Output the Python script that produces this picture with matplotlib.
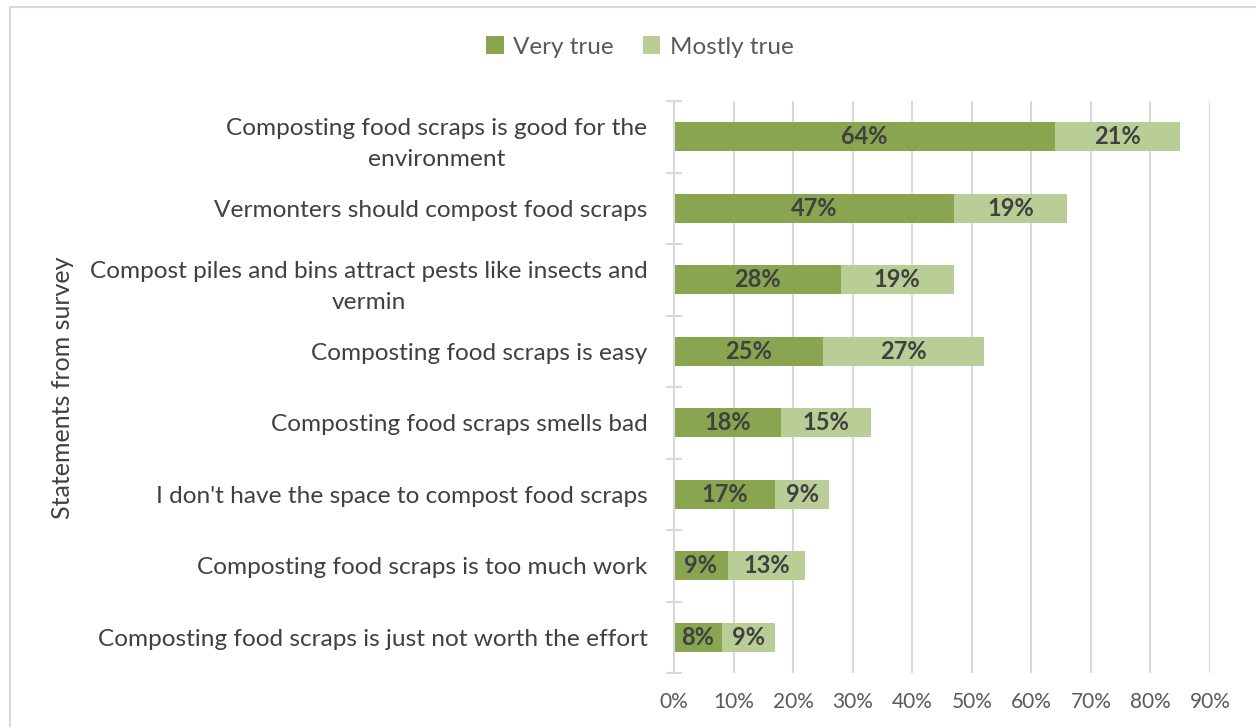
import matplotlib.pyplot as plt
import numpy as np
from matplotlib.patches import Rectangle

plt.rcParams['font.family'] = ['Lato', 'DejaVu Sans']

statements = [
    'Composting food scraps is good for the\nenvironment',
    'Vermonters should compost food scraps',
    'Compost piles and bins attract pests like insects and\nvermin',
    'Composting food scraps is easy',
    'Composting food scraps smells bad',
    "I don't have the space to compost food scraps",
    'Composting food scraps is too much work',
    'Composting food scraps is just not worth the effort',
]
very_true = [64, 47, 28, 25, 18, 17, 9, 8]
mostly_true = [21, 19, 19, 27, 15, 9, 13, 9]

dark = '#8AA550'
light = '#B9CE97'
grid_c = '#D9D9D9'
text_c = '#404040'
tick_c = '#595959'

fig = plt.figure(figsize=(12.56, 7.27), dpi=100)
ax = fig.add_axes([674 / 1256, 1 - 673 / 727, 536 / 1256, 572 / 727])

y = np.arange(len(statements))
vt = np.array(very_true) / 100
mt = np.array(mostly_true) / 100
h = 0.41
ax.barh(y, vt, height=h, color=dark, label='Very true', zorder=3)
ax.barh(y, mt, left=vt, height=h, color=light, label='Mostly true', zorder=3)

for i in range(len(y)):
    ax.text(vt[i] / 2, y[i], f'{very_true[i]}%', ha='center', va='center',
            fontsize=17, fontweight='bold', color=text_c, zorder=4)
    ax.text(vt[i] + mt[i] / 2, y[i], f'{mostly_true[i]}%', ha='center', va='center',
            fontsize=17, fontweight='bold', color=text_c, zorder=4)

ax.set_ylim(len(y) - 0.5, -0.5)
ax.set_xlim(0, 0.9)
ax.set_xticks(np.arange(0, 0.91, 0.1))
ax.set_xticklabels([f'{int(round(v * 100))}%' for v in np.arange(0, 0.91, 0.1)])
ax.set_yticks(y)
ax.set_yticklabels(statements, fontsize=17.6, color=text_c)
ax.set_yticks(np.arange(-0.5, len(y), 1), minor=True)
ax.tick_params(axis='y', which='major', length=0, pad=19)
ax.tick_params(axis='y', which='minor', length=12, direction='inout', width=1.5, color=grid_c)
ax.tick_params(axis='x', length=0, labelsize=15, labelcolor=tick_c, pad=14)
for lbl in ax.get_yticklabels():
    lbl.set_linespacing(1.6)
    lbl.set_multialignment('center')

ax.grid(axis='x', color=grid_c, linewidth=1.5, zorder=0)
for s in ['top', 'right', 'bottom']:
    ax.spines[s].set_visible(False)
ax.spines['left'].set_color(grid_c)
ax.spines['left'].set_linewidth(1.5)
ax.spines['left'].set_zorder(5)

fig.text(63 / 1256, 1 - 388 / 727, 'Statements from survey', rotation=90,
         ha='center', va='center', fontsize=18, color=text_c)

ax.legend(loc='center', bbox_to_anchor=(640 / 1256, 1 - 47 / 727),
          bbox_transform=fig.transFigure, ncol=2, frameon=False, fontsize=17.5,
          handlelength=0.7, handleheight=0.7, handletextpad=0.4, columnspacing=1.2,
          labelcolor=tick_c)

fig.patches.append(Rectangle((10 / 1256, -0.1), 1.2, 1 - 7 / 727 + 0.1,
                             transform=fig.transFigure, fill=False,
                             edgecolor=grid_c, linewidth=1.5))

fig.savefig('out.png', dpi=100)
